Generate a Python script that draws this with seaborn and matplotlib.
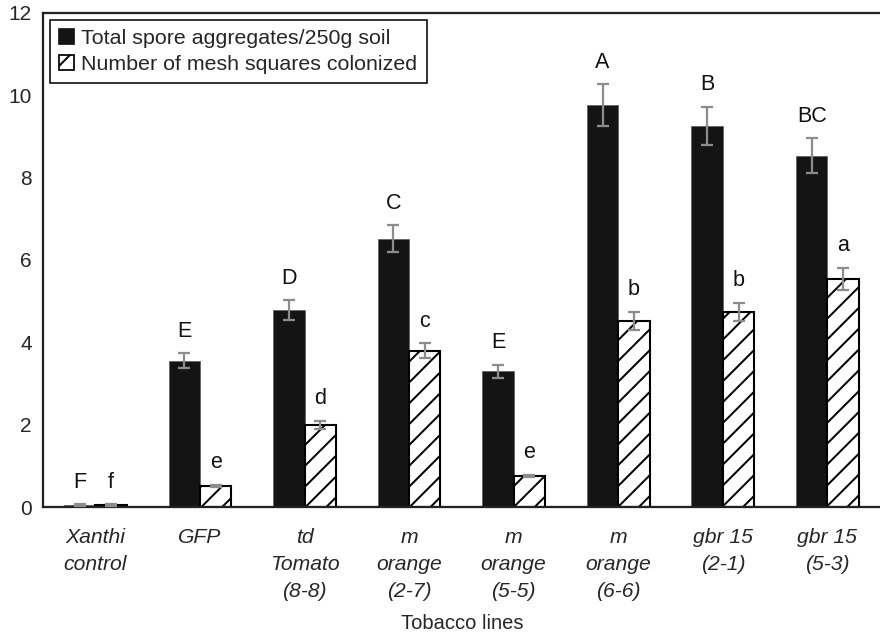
import pandas as pd
import numpy as np
import matplotlib
matplotlib.use('Agg')
import matplotlib.pyplot as plt
import seaborn as sns
from matplotlib.patches import Patch
from matplotlib.ticker import FixedLocator

# Data
lines = ['Xanthi\ncontrol', 'GFP', 'td\nTomato\n(8-8)', 'm\norange\n(2-7)',
         'm\norange\n(5-5)', 'm\norange\n(6-6)', 'gbr 15\n(2-1)', 'gbr 15\n(5-3)']
series = ['Total spore aggregates/250g soil', 'Number of mesh squares colonized']
spores = [0.05, 3.55, 4.78, 6.51, 3.30, 9.76, 9.25, 8.53]
spores_err = [0.02, 0.18, 0.24, 0.33, 0.16, 0.50, 0.47, 0.42]
mesh = [0.05, 0.51, 1.99, 3.80, 0.75, 4.52, 4.74, 5.54]
mesh_err = [0.02, 0.03, 0.10, 0.18, 0.03, 0.22, 0.22, 0.27]
spores_letters = ['F', 'E', 'D', 'C', 'E', 'A', 'B', 'BC']
mesh_letters = ['f', 'e', 'd', 'c', 'e', 'b', 'b', 'a']

df = pd.DataFrame({
    'line': lines * 2,
    'series': [series[0]] * len(lines) + [series[1]] * len(lines),
    'value': spores + mesh,
})

sns.set_style('white')
plt.rcParams['font.family'] = ['Liberation Sans', 'DejaVu Sans']
plt.rcParams['hatch.linewidth'] = 1.15

# 125 dpi so that the '//' hatch gets the coarser spacing of the original
fig = plt.figure(figsize=(7.04, 5.096), dpi=125)
ax = fig.add_axes([0.049, 0.204, 0.953, 0.776])

sns.barplot(data=df, x='line', y='value', hue='series', order=lines, hue_order=series,
            palette=['#141414', 'white'], width=0.6, errorbar=None, ax=ax, legend=False)

# style the two bar groups, then add error bars and letters
errs = [spores_err, mesh_err]
letters = [spores_letters, mesh_letters]
bar_groups = list(ax.containers)
for k, cont in enumerate(bar_groups):
    for i, bar in enumerate(cont):
        if k == 0:
            bar.set_edgecolor('#666666')
            bar.set_linewidth(0.5)
        else:
            bar.set_facecolor('white')
            bar.set_edgecolor('black')
            bar.set_linewidth(1.2)
            bar.set_hatch('//')
        xc = bar.get_x() + bar.get_width() / 2
        h = bar.get_height()
        e = errs[k][i]
        ax.errorbar(xc, h, yerr=e, color='#8c8c8c', capsize=3.5, elinewidth=1.3,
                    capthick=1.3, zorder=3)
        ax.text(xc, h + e + 0.28, letters[k][i], ha='center', va='bottom',
                fontsize=12.4, color='#111111')

ax.set_xlim(-0.5, 7.52)
ax.set_ylim(0, 12)
ax.set_yticks(range(0, 13, 2))
ax.set_ylabel('')
ax.set_xlabel('Tobacco lines', fontsize=11.6, labelpad=7)

# category labels at centres, tick marks at boundaries
ax.tick_params(axis='x', which='major', length=0, pad=12)
ax.xaxis.set_minor_locator(FixedLocator(np.arange(-0.5, 8, 1.0)))
ax.tick_params(axis='x', which='minor', length=4.6, width=1.2, direction='out', color='#222222')
ax.tick_params(axis='y', length=3.5, width=1.2, direction='out', color='#222222', labelsize=12,
               pad=3)
for lab in ax.get_xticklabels():
    lab.set_fontstyle('italic')
    lab.set_fontsize(12.2)
    lab.set_linespacing(1.55)
    lab.set_verticalalignment('top')

for side in ['left', 'bottom', 'top']:
    ax.spines[side].set_color('#222222')
    ax.spines[side].set_linewidth(1.3)
ax.spines['right'].set_visible(False)

handles = [Patch(facecolor='#141414', edgecolor='#141414'),
           Patch(facecolor='white', edgecolor='black', hatch='//')]
leg = ax.legend(handles, series, loc='upper left', bbox_to_anchor=(0.008, 0.986),
                fontsize=12.3, frameon=True, fancybox=False, framealpha=1,
                edgecolor='black', handlelength=0.7, handleheight=0.7,
                handletextpad=0.3, borderpad=0.45, labelspacing=0.3,
                borderaxespad=0)
leg.get_frame().set_linewidth(0.9)

plt.savefig('out.png', dpi=125)
plt.close()
